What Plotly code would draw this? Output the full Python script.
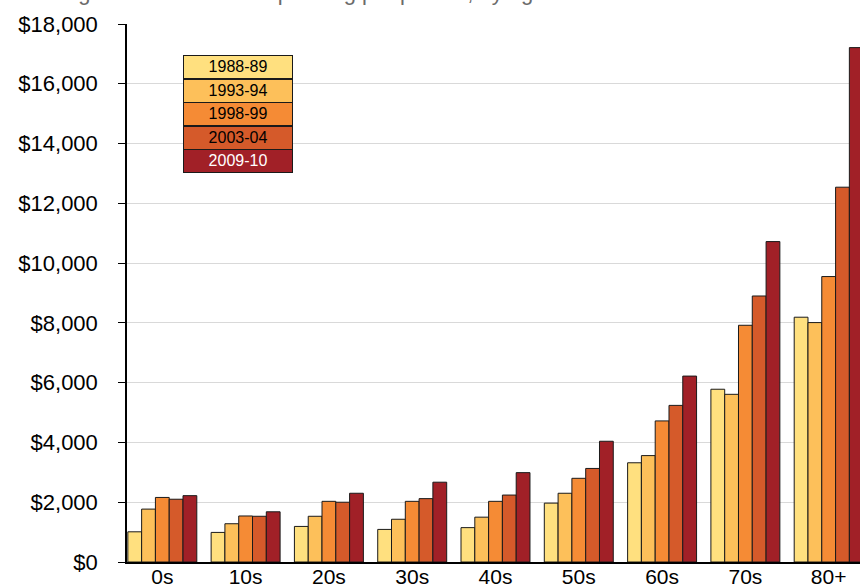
import plotly.graph_objects as go

categories = ["0s", "10s", "20s", "30s", "40s", "50s", "60s", "70s", "80+"]
series_names = ["1988-89", "1993-94", "1998-99", "2003-04", "2009-10"]
values_1988 = [1010, 990, 1190, 1090, 1150, 1970, 3320, 5780, 8190]
values_1993 = [1770, 1280, 1530, 1430, 1500, 2300, 3560, 5610, 8010]
values_1998 = [2160, 1540, 2030, 2030, 2030, 2800, 4720, 7920, 9550]
values_2003 = [2100, 1530, 2000, 2120, 2240, 3130, 5240, 8900, 12540]
values_2009 = [2220, 1680, 2300, 2670, 2990, 4040, 6220, 10720, 17210]
series_values = [values_1988, values_1993, values_1998, values_2003, values_2009]
colors = ["#FFE07F", "#FDC05A", "#F58B35", "#D55A2A", "#A12027"]
legend_text_colors = ["#000000", "#000000", "#000000", "#000000", "#FFFFFF"]
title_text = "Real government health spending per person, by age"

W, H = 860, 585
L, R, T, B = 127, 0, 24, 23
plot_w = W - L - R
plot_h = H - T - B

fig = go.Figure()
for name, vals, col in zip(series_names, series_values, colors):
    fig.add_trace(go.Bar(
        x=categories, y=vals, name=name,
        marker=dict(color=col, line=dict(color="#1a1a1a", width=1)),
        showlegend=False,
    ))

font_family = "Liberation Sans, Arial, sans-serif"

fig.update_layout(
    width=W, height=H,
    margin=dict(l=L, r=R, t=T, b=B, pad=0, autoexpand=False),
    paper_bgcolor="white", plot_bgcolor="white",
    barmode="group", bargap=0.172, bargroupgap=0,
    font=dict(family=font_family, size=20, color="#000000"),
)
fig.update_xaxes(
    type="category", range=[-0.424, 8.376], automargin=False,
    showline=True, linecolor="#000000", linewidth=1.5,
    ticks="", showgrid=False,
    tickfont=dict(size=21, color="#000000"),
    ticklabelstandoff=-5,
)
fig.update_yaxes(
    range=[0, 18000], dtick=2000, tickprefix="$", tickformat=",d",
    automargin=False,
    showline=True, linecolor="#000000", linewidth=1.5,
    ticks="outside", ticklen=7, tickcolor="#000000", tickwidth=1,
    showgrid=True, gridcolor="#D9D9D9", gridwidth=1.2,
    zeroline=False,
    tickfont=dict(size=22, color="#000000"),
    ticklabelstandoff=16,
)

# Title (partially clipped at the top, as in the reference)
fig.add_annotation(
    text=title_text, xref="paper", yref="paper",
    x=(25 - L) / plot_w, y=1, xanchor="left", yanchor="bottom",
    yshift=17, showarrow=False,
    font=dict(size=22, color="#6b6b6b", family=font_family),
)

# Custom stacked legend boxes
box_left = 183
box_top = 55
row_h = 23.6
for i, (name, col, tcol) in enumerate(zip(series_names, colors, legend_text_colors)):
    top_px = box_top + i * row_h
    fig.add_annotation(
        text=name, xref="paper", yref="paper",
        x=(box_left - L) / plot_w, y=1 - (top_px - T) / plot_h,
        xanchor="left", yanchor="top", showarrow=False,
        width=108, height=row_h - 2, borderpad=0, borderwidth=1,
        bordercolor="#1a1a1a", bgcolor=col, align="center", valign="middle",
        font=dict(size=16, color=tcol, family=font_family),
    )

fig.write_html(
    "out.html",
    config={"displayModeBar": False},
    post_script="document.body.style.margin='0';document.body.style.overflow='hidden';",
)
